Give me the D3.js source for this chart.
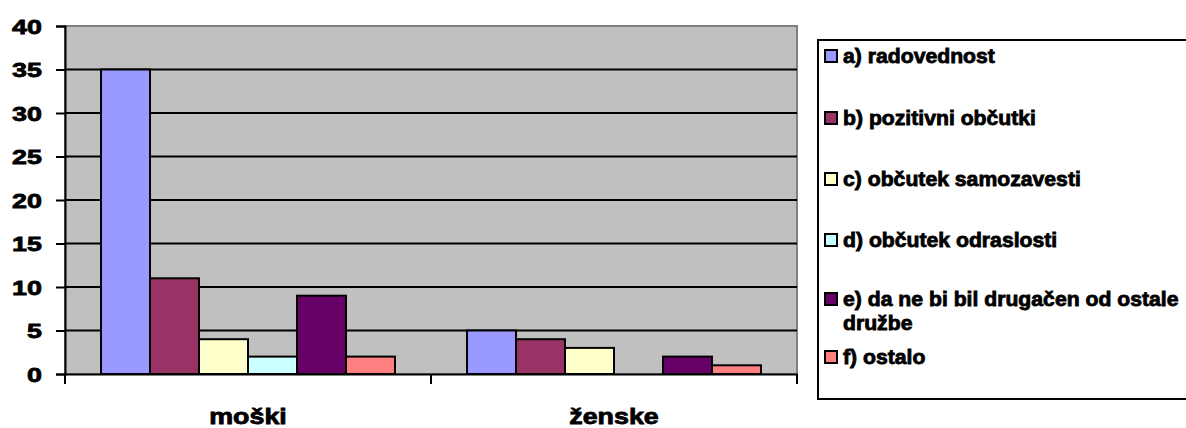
<!DOCTYPE html>
<html><head><meta charset="utf-8">
<script src="https://cdn.jsdelivr.net/npm/d3@7"></script>
<style>body{margin:0;background:#fff}svg{display:block}</style>
</head><body>
<svg id="chart" width="1186" height="428"></svg>
<script>
const categories = ["moški", "ženske"];
const seriesNames = ["a) radovednost", "b) pozitivni občutki", "c) občutek samozavesti", "d) občutek odraslosti", "e) da ne bi bil drugačen od ostale družbe", "f) ostalo"];
const seriesValues = [
  [35, 5],
  [11, 4],
  [4, 3],
  [2, 0],
  [9, 2],
  [2, 1]
];
const seriesColors = ["#9999FF", "#993366", "#FFFFCC", "#CCFFFF", "#660066", "#FF8080"];
const yTicks = [0, 5, 10, 15, 20, 25, 30, 35, 40];

const svg = d3.select("#chart");
const FONT = "'Liberation Sans', Arial, sans-serif";
const plotL = 65, plotR = 797, plotT = 26, plotB = 374;

const x0 = d3.scaleBand().domain(categories).range([plotL, plotR]).paddingInner(0).paddingOuter(0);
const x1 = d3.scaleBand().domain(d3.range(seriesNames.length)).range([0, x0.bandwidth()]).paddingInner(0).paddingOuter(0.735);
const y = d3.scaleLinear().domain([0, 40]).range([plotB, plotT]);

function stretchText(g, x, yy, txt, size, sx, anchor) {
  return g.append("text")
    .attr("transform", `translate(${x},${yy}) scale(${sx},1)`)
    .attr("text-anchor", anchor || "start")
    .attr("font-family", FONT).attr("font-weight", "bold").attr("font-size", size)
    .attr("fill", "#000").attr("stroke", "#000").attr("stroke-width", 0.8).text(txt);
}

// plot area
svg.append("rect").attr("x", plotL).attr("y", plotT).attr("width", plotR - plotL).attr("height", plotB - plotT)
  .attr("fill", "#C0C0C0").attr("stroke", "#808080").attr("stroke-width", 2);

// gridlines
svg.append("g").selectAll("line").data(yTicks.filter(d => d > 0 && d < 40)).join("line")
  .attr("x1", plotL).attr("x2", plotR).attr("y1", d => y(d)).attr("y2", d => y(d))
  .attr("stroke", "#000").attr("stroke-width", 2);

// bars
const groups = svg.append("g").selectAll("g").data(categories).join("g")
  .attr("transform", c => `translate(${x0(c)},0)`);
groups.selectAll("rect").data((c, ci) => seriesValues.map((v, si) => ({si, v: v[ci]}))).join("rect")
  .attr("x", d => x1(d.si)).attr("width", x1.bandwidth())
  .attr("y", d => y(d.v)).attr("height", d => y(0) - y(d.v))
  .attr("fill", d => seriesColors[d.si])
  .attr("stroke", d => d.v > 0 ? "#000" : "none").attr("stroke-width", 2);

// y axis
const yAxis = svg.append("g").attr("transform", `translate(${plotL},0)`)
  .call(d3.axisLeft(y).tickValues(yTicks).tickSize(9).tickFormat(""));
yAxis.select(".domain").attr("stroke", "#000").attr("stroke-width", 2);
yAxis.selectAll(".tick line").attr("stroke", "#000").attr("stroke-width", 2);
yTicks.forEach(t => stretchText(svg, 42, y(t) + 7.5, String(t), 21, 1.28, "end"));

// x axis
const xAxis = svg.append("g").attr("transform", `translate(0,${plotB})`)
  .call(d3.axisBottom(x0).tickSize(0).tickFormat(""));
xAxis.select(".domain").attr("stroke", "#000").attr("stroke-width", 2);
const boundaries = [plotL].concat(categories.map(c => x0(c) + x0.bandwidth()));
svg.append("g").selectAll("line").data(boundaries).join("line")
  .attr("x1", d => d).attr("x2", d => d).attr("y1", plotB).attr("y2", plotB + 10)
  .attr("stroke", "#000").attr("stroke-width", 2);
categories.forEach(c => stretchText(svg, x0(c) + x0.bandwidth() / 2, 424, c, 22, 1.22, "middle"));

// legend
const lg = svg.append("g");
lg.append("rect").attr("x", 818).attr("y", 40).attr("width", 400).attr("height", 359)
  .attr("fill", "#fff").attr("stroke", "#000").attr("stroke-width", 2);
const rowY = [56, 118, 179, 240, 299, 357];
seriesNames.forEach((name, i) => {
  const cy = rowY[i];
  lg.append("rect").attr("x", 825).attr("y", cy - 6).attr("width", 12).attr("height", 12)
    .attr("fill", seriesColors[i]).attr("stroke", "#000").attr("stroke-width", 2);
  if (i === 4) {
    stretchText(lg, 843, cy + 7, "e) da ne bi bil drugačen od ostale", 20, 1.06);
    stretchText(lg, 843, cy + 31, "družbe", 20, 1.06);
  } else {
    stretchText(lg, 843, cy + 7, name, 20, 1.06);
  }
});
</script>
</body></html>
